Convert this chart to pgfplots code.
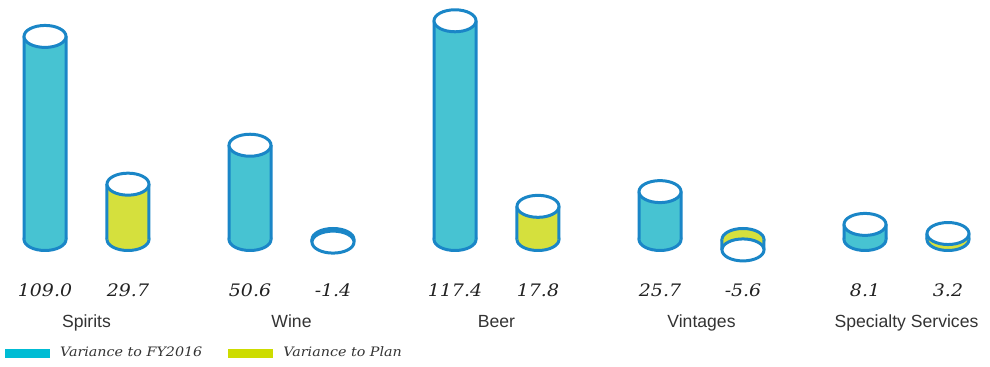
\documentclass[border=0pt]{standalone}
\usepackage{pgfplots}
\pgfplotsset{compat=1.18}
\usepackage{pgfplotstable}
\usepackage{fontspec}
\newfontfamily\catfont{Liberation Sans}
\newfontfamily\numfont[FakeStretch=1.1]{DejaVu Serif}

\definecolor{rim}{HTML}{1A86C7}
\definecolor{bodyteal}{HTML}{47C3D2}
\definecolor{bodylime}{HTML}{D5E03D}
\definecolor{keyteal}{HTML}{00BCD4}
\definecolor{keylime}{HTML}{CDDC00}
\definecolor{ink}{HTML}{222222}
\definecolor{catgray}{HTML}{333333}

% elliptical cap of a cylinder (front view, slightly from above)
\pgfdeclareplotmark{cylcap}{%
  \pgfpathellipse{\pgfpointorigin}{\pgfqpoint{10.5pt}{0pt}}{\pgfqpoint{0pt}{5.5pt}}%
  \pgfusepathqfillstroke}

% variance by category, millions
\pgfplotstableread{
idx fy plan
0 109.0 29.7
1 50.6 -1.4
2 117.4 17.8
3 25.7 -5.6
4 8.1 3.2
}\sales

\pgfplotsset{
  capstyle/.style={only marks, mark=cylcap, forget plot,
    mark options={draw=rim, line width=1.5pt, fill=#1}},
  bodystyle/.style={ybar, bar shift=0pt, bar width=21pt, fill=#1, draw=none, forget plot},
  sidestyle/.style={ybar, bar shift=#1, bar width=1.5pt, fill=rim, draw=none, forget plot},
  valstyle/.style={draw=none, mark=none, forget plot,
    nodes near coords={\pgfmathprintnumber[fixed, fixed zerofill, precision=1, assume math mode=true]{\pgfplotspointmeta}},
    every node near coord/.append style={anchor=base, inner sep=0pt, text=ink,
      font=\numfont\itshape\fontsize{8.6}{10}\selectfont}},
}

\begin{document}
\begin{tikzpicture}
\useasboundingbox (0,0) rectangle (495pt,183.5pt);
\begin{axis}[
  at={(0,0)}, anchor=south west,
  scale only axis, width=495pt, height=183.5pt,
  xmin=-0.42195, xmax=4.40732,
  ymin=-68.44, ymax=128.56,
  hide axis, clip=false, clip marker paths=true,
  legend columns=2,
  legend image code/.code={\fill[#1, draw=none] (0pt,-2.25pt) rectangle (22.5pt,2.25pt);},
  legend style={draw=none, fill=none, inner sep=0pt, outer sep=0pt,
    at={(rel axis cs:0,0)}, anchor=south west, xshift=2.5pt, yshift=1.5pt,
    font=\numfont\itshape\fontsize{6.5}{9}\selectfont, text=catgray,
    /tikz/every odd column/.style={column sep=3pt},
    /tikz/every even column/.style={column sep=11pt}},
]
% bottom caps
\addplot[capstyle=bodyteal] table[x expr=\thisrow{idx}-0.2024, y expr=0] {\sales};
\addplot[capstyle=bodylime] table[x expr=\thisrow{idx}+0.2024, y expr=0] {\sales};
% bodies
\addplot[bodystyle=bodyteal] table[x expr=\thisrow{idx}-0.2024, y=fy] {\sales};
\addplot[bodystyle=bodylime] table[x expr=\thisrow{idx}+0.2024, y=plan] {\sales};
% outlines of the sides
\addplot[sidestyle=-10.5pt] table[x expr=\thisrow{idx}-0.2024, y=fy] {\sales};
\addplot[sidestyle=10.5pt] table[x expr=\thisrow{idx}-0.2024, y=fy] {\sales};
\addplot[sidestyle=-10.5pt] table[x expr=\thisrow{idx}+0.2024, y=plan] {\sales};
\addplot[sidestyle=10.5pt] table[x expr=\thisrow{idx}+0.2024, y=plan] {\sales};
% end caps
\addplot[capstyle=white] table[x expr=\thisrow{idx}-0.2024, y=fy] {\sales};
\addplot[capstyle=white] table[x expr=\thisrow{idx}+0.2024, y=plan] {\sales};
% value labels
\addplot[valstyle, point meta=\thisrow{fy}] table[x expr=\thisrow{idx}-0.2024, y expr=-30.7] {\sales};
\addplot[valstyle, point meta=\thisrow{plan}] table[x expr=\thisrow{idx}+0.2024, y expr=-30.7] {\sales};
% category names
\begin{scope}[every node/.style={anchor=base, inner sep=0pt, text=catgray,
    font=\catfont\fontsize{8.8}{11}\selectfont}]
\node at (axis cs:0,-47.5) {Spirits};
\node at (axis cs:1,-47.5) {Wine};
\node at (axis cs:2,-47.5) {Beer};
\node at (axis cs:3,-47.5) {Vintages};
\node at (axis cs:4,-47.5) {Specialty Services};
\end{scope}
\addlegendimage{fill=keyteal}
\addlegendentry{Variance to FY2016}
\addlegendimage{fill=keylime}
\addlegendentry{Variance to Plan}
\end{axis}
\end{tikzpicture}
\end{document}
